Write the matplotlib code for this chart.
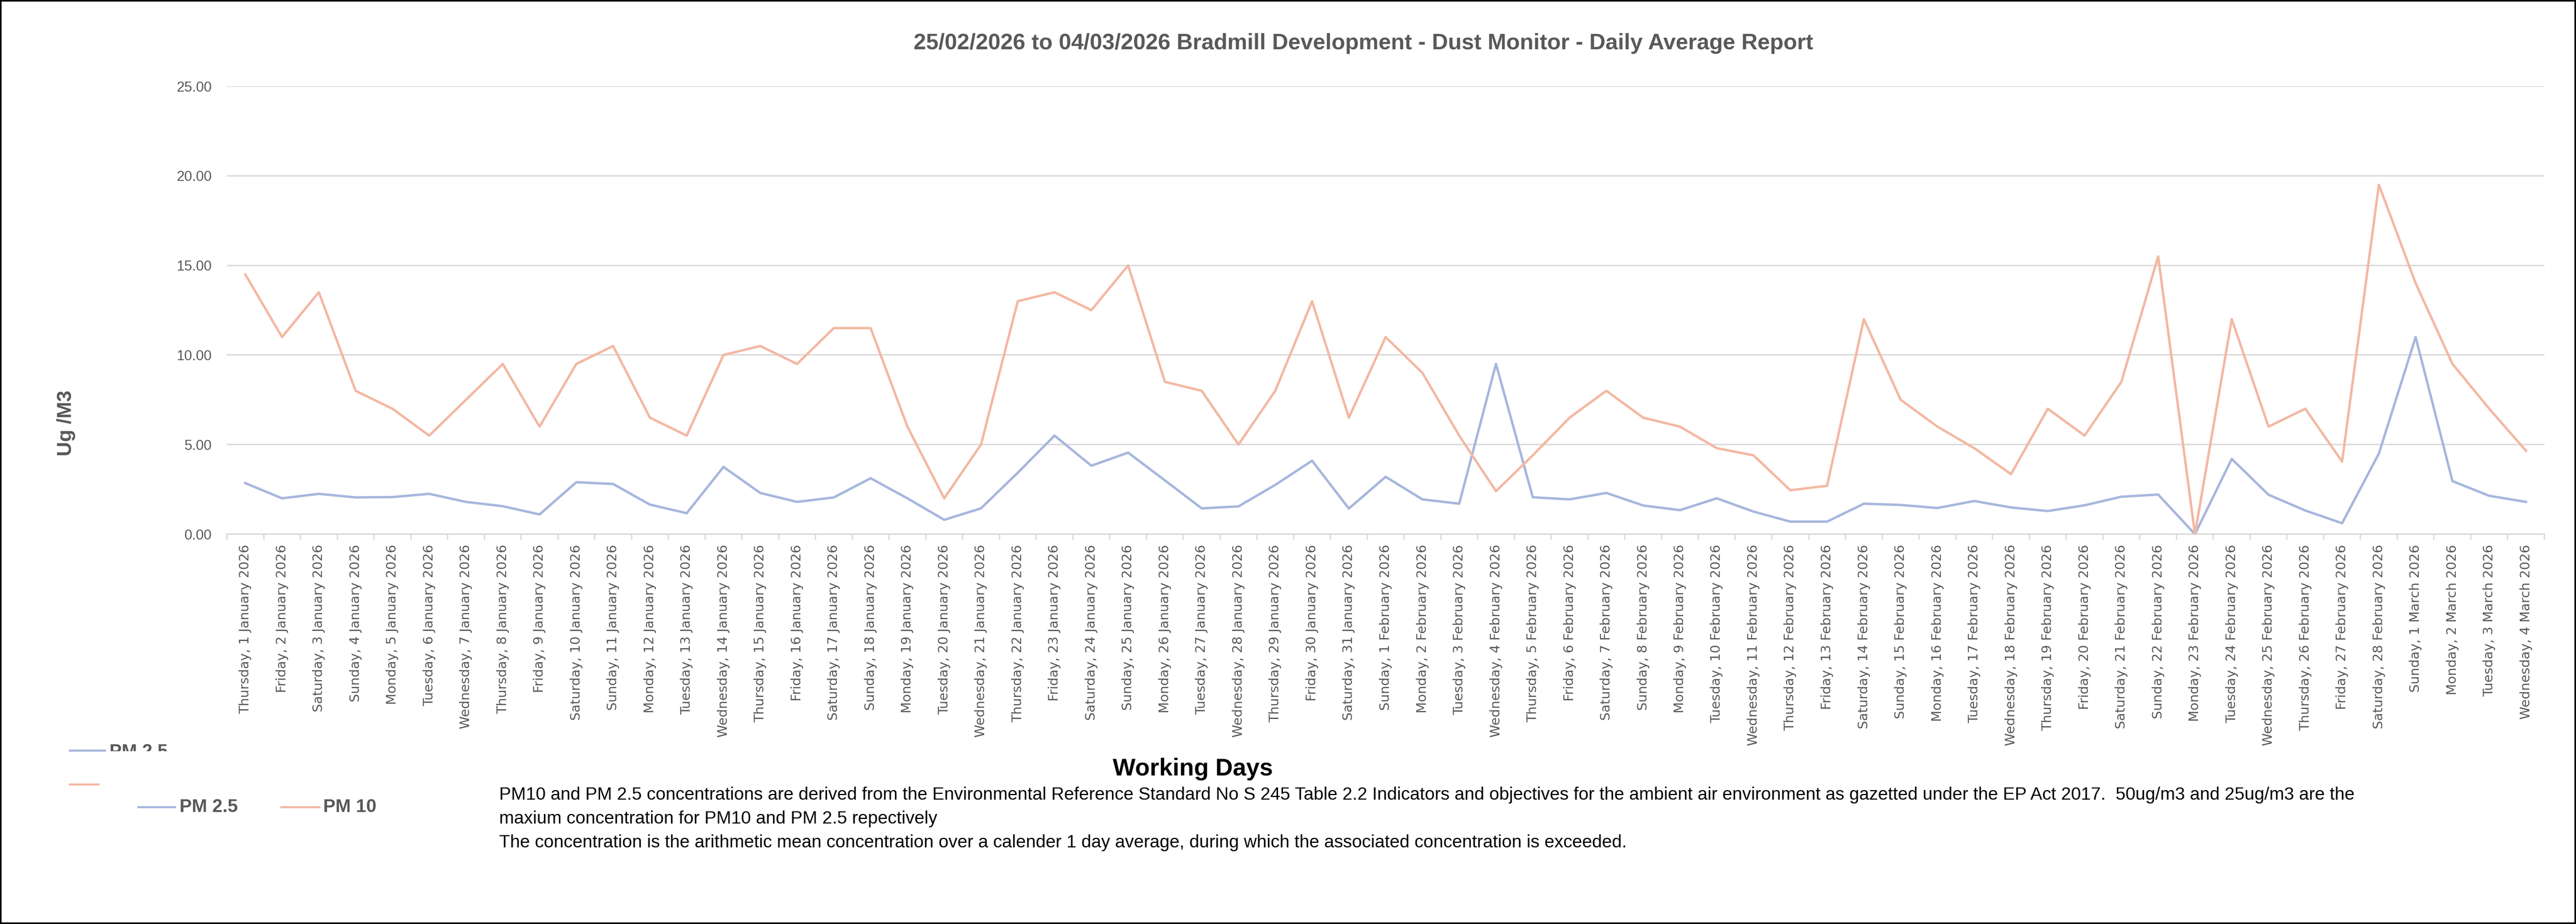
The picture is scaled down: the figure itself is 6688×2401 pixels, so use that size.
import matplotlib
matplotlib.use("Agg")
import matplotlib.pyplot as plt
import numpy as np
from matplotlib.lines import Line2D
from matplotlib.patches import Rectangle
from matplotlib.ticker import FixedLocator, FormatStrFormatter
from matplotlib.transforms import Bbox

# Daily averages (ug/m3)
days = [
    "Thursday, 1 January 2026", "Friday, 2 January 2026", "Saturday, 3 January 2026",
    "Sunday, 4 January 2026", "Monday, 5 January 2026", "Tuesday, 6 January 2026",
    "Wednesday, 7 January 2026", "Thursday, 8 January 2026", "Friday, 9 January 2026",
    "Saturday, 10 January 2026", "Sunday, 11 January 2026", "Monday, 12 January 2026",
    "Tuesday, 13 January 2026", "Wednesday, 14 January 2026", "Thursday, 15 January 2026",
    "Friday, 16 January 2026", "Saturday, 17 January 2026", "Sunday, 18 January 2026",
    "Monday, 19 January 2026", "Tuesday, 20 January 2026", "Wednesday, 21 January 2026",
    "Thursday, 22 January 2026", "Friday, 23 January 2026", "Saturday, 24 January 2026",
    "Sunday, 25 January 2026", "Monday, 26 January 2026", "Tuesday, 27 January 2026",
    "Wednesday, 28 January 2026", "Thursday, 29 January 2026", "Friday, 30 January 2026",
    "Saturday, 31 January 2026", "Sunday, 1 February 2026", "Monday, 2 February 2026",
    "Tuesday, 3 February 2026", "Wednesday, 4 February 2026", "Thursday, 5 February 2026",
    "Friday, 6 February 2026", "Saturday, 7 February 2026", "Sunday, 8 February 2026",
    "Monday, 9 February 2026", "Tuesday, 10 February 2026", "Wednesday, 11 February 2026",
    "Thursday, 12 February 2026", "Friday, 13 February 2026", "Saturday, 14 February 2026",
    "Sunday, 15 February 2026", "Monday, 16 February 2026", "Tuesday, 17 February 2026",
    "Wednesday, 18 February 2026", "Thursday, 19 February 2026", "Friday, 20 February 2026",
    "Saturday, 21 February 2026", "Sunday, 22 February 2026", "Monday, 23 February 2026",
    "Tuesday, 24 February 2026", "Wednesday, 25 February 2026", "Thursday, 26 February 2026",
    "Friday, 27 February 2026", "Saturday, 28 February 2026", "Sunday, 1 March 2026",
    "Monday, 2 March 2026", "Tuesday, 3 March 2026", "Wednesday, 4 March 2026",
]

pm25 = [2.85, 2.0, 2.25, 2.05, 2.07, 2.25, 1.8, 1.56, 1.1, 2.9, 2.8, 1.65, 1.17,
        3.75, 2.3, 1.8, 2.05, 3.12, 2.0, 0.8, 1.44, 3.43, 5.5, 3.82, 4.55,
        3.0, 1.44, 1.55, 2.75, 4.1, 1.43, 3.2, 1.94, 1.7, 9.5, 2.06, 1.94, 2.3,
        1.6, 1.34, 2.0, 1.26, 0.7, 0.7, 1.7, 1.63, 1.46, 1.85, 1.49, 1.29, 1.61,
        2.09, 2.21, 0.0, 4.2, 2.2, 1.32, 0.61, 4.5, 11.0, 2.96, 2.14, 1.8]

pm10 = [14.5, 11.0, 13.5, 8.0, 7.0, 5.5, 7.5, 9.5, 6.0, 9.5, 10.5, 6.5, 5.5,
        10.0, 10.5, 9.5, 11.5, 11.5, 6.0, 2.0, 5.0, 13.0, 13.5, 12.5, 15.0,
        8.5, 8.0, 5.0, 8.0, 13.0, 6.5, 11.0, 9.0, 5.5, 2.4, 4.4, 6.5, 8.0,
        6.5, 6.0, 4.8, 4.4, 2.45, 2.7, 12.0, 7.5, 6.0, 4.8, 3.35, 7.0, 5.5,
        8.5, 15.5, 0.0, 12.0, 6.0, 7.0, 4.05, 19.5, 14.0, 9.5, 7.0, 4.65]

y_ticks = [0, 5, 10, 15, 20, 25]

title = "25/02/2026 to 04/03/2026 Bradmill Development - Dust Monitor - Daily Average Report"
notes = [
    "PM10 and PM 2.5 concentrations are derived from the Environmental Reference Standard No S 245 "
    "Table 2.2 Indicators and objectives for the ambient air environment as gazetted under the EP Act 2017.  "
    "50ug/m3 and 25ug/m3 are the",
    "maxium concentration for PM10 and PM 2.5 repectively",
    "The concentration is the arithmetic mean concentration over a calender 1 day average, "
    "during which the associated concentration is exceeded.",
]

# Colours (Excel-ish)
BLUE   = "#A7B6DD"
ORANGE = "#F3B8A3"
GRID   = "#D9D9D9"
GREY   = "#595959"
SANS   = ["Liberation Sans", "DejaVu Sans"]

W, H, DPI = 6688, 2401, 300
fig = plt.figure(figsize=(W / DPI, H / DPI), dpi=DPI)
fig.patch.set_facecolor("white")

# plot area in pixels: x 589..6606, y 224..1388 (from top)
ax = fig.add_axes([589 / W, 1 - 1388 / H, (6606 - 589) / W, (1388 - 224) / H])

x = np.arange(len(days))
ax.plot(x, pm25, color=BLUE, lw=1.5, solid_joinstyle="round", zorder=3)
ax.plot(x, pm10, color=ORANGE, lw=1.5, solid_joinstyle="round", zorder=4)

ax.set_xlim(-0.5, len(days) - 0.5)
ax.set_ylim(0, 25)

# y axis
ax.set_yticks(y_ticks)
ax.yaxis.set_major_formatter(FormatStrFormatter("%.2f"))
ax.tick_params(axis="y", length=0, pad=9.5, labelsize=8.8, labelcolor=GREY)
for lab in ax.get_yticklabels():
    lab.set_family(SANS)
ax.grid(axis="y", color=GRID, lw=0.85)
ax.set_axisbelow(True)

# x axis: labels at centres, little tick marks between categories
ax.set_xticks(x)
ax.set_xticklabels(days, rotation=90, va="top", ha="center", family="DejaVu Sans")
ax.tick_params(axis="x", which="major", length=0, pad=6.5, labelsize=8.2, labelcolor=GREY)
ax.xaxis.set_minor_locator(FixedLocator(np.arange(len(days) + 1) - 0.5))
ax.tick_params(axis="x", which="minor", length=3.4, width=0.85, color=GRID)

for side in ["top", "right", "left"]:
    ax.spines[side].set_visible(False)
ax.spines["bottom"].set_color(GRID)
ax.spines["bottom"].set_linewidth(0.85)

# titles
fig.text(3540 / W, 1 - 113 / H, title, ha="center", va="center",
         fontsize=13.9, fontweight="bold", color=GREY, family=SANS)
fig.text(3097 / W, 1 - 1998 / H, "Working Days", ha="center", va="center",
         fontsize=15, fontweight="bold", color="black", family=SANS)
fig.text(172 / W, 1 - 1100 / H, "Ug /M3", ha="center", va="center", rotation=90,
         fontsize=12.5, fontweight="bold", color=GREY, family=SANS)

# notes under the chart
for i, line in enumerate(notes):
    fig.text(1296 / W, 1 - (2066 + i * 62) / H, line, ha="left", va="center",
             fontsize=11.1, color="black", family=SANS)

# legend leftovers (stacked entries, first one cut off) plus the real legend row
fig.add_artist(Line2D([181 / W, 272 / W], [1 - 1950 / H] * 2, color=BLUE, lw=1.3))
t = fig.text(284 / W, 1 - 1932 / H, "PM 2.5", ha="left", va="top",
             fontsize=11.5, fontweight="bold", color=GREY, family=SANS)
t.set_clip_box(Bbox.from_extents(0, H - 1952, W, H))
t.set_clip_on(True)
fig.add_artist(Line2D([181 / W, 255 / W], [1 - 2038 / H] * 2, color=ORANGE, lw=1.3))

fig.add_artist(Line2D([359 / W, 454 / W], [1 - 2097 / H] * 2, color=BLUE, lw=1.3))
fig.text(466 / W, 1 - 2097 / H, "PM 2.5", ha="left", va="center",
         fontsize=11.5, fontweight="bold", color=GREY, family=SANS)
fig.add_artist(Line2D([730 / W, 829 / W], [1 - 2097 / H] * 2, color=ORANGE, lw=1.3))
fig.text(839 / W, 1 - 2097 / H, "PM 10", ha="left", va="center",
         fontsize=11.5, fontweight="bold", color=GREY, family=SANS)

# black frame around the whole picture
fig.add_artist(Rectangle((0, 0), 1, 1, transform=fig.transFigure, fill=False,
                         edgecolor="black", lw=2.0))

fig.savefig("out.png", dpi=DPI)
